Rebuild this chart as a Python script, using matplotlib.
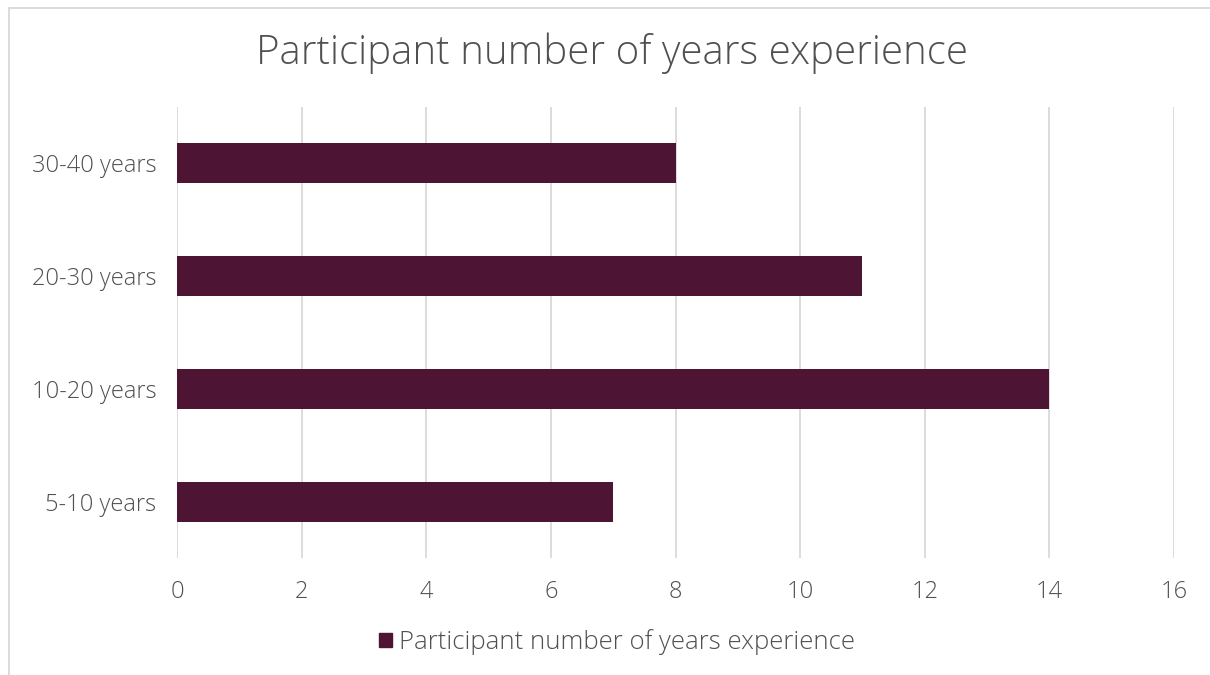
import matplotlib
matplotlib.use("Agg")
import matplotlib.pyplot as plt
from matplotlib.lines import Line2D
from matplotlib.patches import Rectangle

categories = ["5-10 years", "10-20 years", "20-30 years", "30-40 years"]
values = [7, 14, 11, 8]
xticks = [0, 2, 4, 6, 8, 10, 12, 14, 16]
series_name = "Participant number of years experience"
title = "Participant number of years experience"

bar_color = "#4E1433"
text_color = "#505050"
grid_color = "#D9D9D9"
font = ["Open Sans", "DejaVu Sans"]

plt.rcParams["font.family"] = font
plt.rcParams["font.weight"] = "light"

fig = plt.figure(figsize=(12.1, 6.75), dpi=100)
ax = fig.add_axes([177/1210, 1-558/675, (1174-177)/1210, (558-107)/675])

ax.barh(range(len(categories)), values, height=0.355, color=bar_color, zorder=3)
ax.set_yticks(range(len(categories)))
ax.set_yticklabels(categories)
ax.set_ylim(-0.5, len(categories) - 0.5)
ax.set_xlim(0, 16)
ax.set_xticks(xticks)
ax.set_xticklabels([str(v) for v in xticks])
ax.grid(axis="x", color=grid_color, linewidth=1.3, zorder=0)
for s in ax.spines.values():
    s.set_visible(False)
ax.tick_params(axis="both", length=0, labelsize=17, labelcolor=text_color)
ax.tick_params(axis="x", pad=16)
ax.tick_params(axis="y", pad=15)

fig.text(612/1210, 1-53/675, title, ha="center", va="center", fontsize=29,
         color=text_color)

# legend
handle = Rectangle((0, 0), 1, 1, color=bar_color)
leg = fig.legend([handle], [series_name], loc="center", bbox_to_anchor=(617/1210, 1-642/675),
                 frameon=False, fontsize=18.5, handlelength=0.5, handleheight=0.5,
                 handletextpad=0.25)
for t in leg.get_texts():
    t.set_color(text_color)

# chart border (extends past image edges)
fig.add_artist(Line2D([8.5/1210, 8.5/1210], [0, 1-8/675], color=grid_color, lw=1.3))
fig.add_artist(Line2D([8.5/1210, 1], [1-8/675, 1-8/675], color=grid_color, lw=1.3))

fig.savefig("out.png", dpi=100, facecolor="white")
